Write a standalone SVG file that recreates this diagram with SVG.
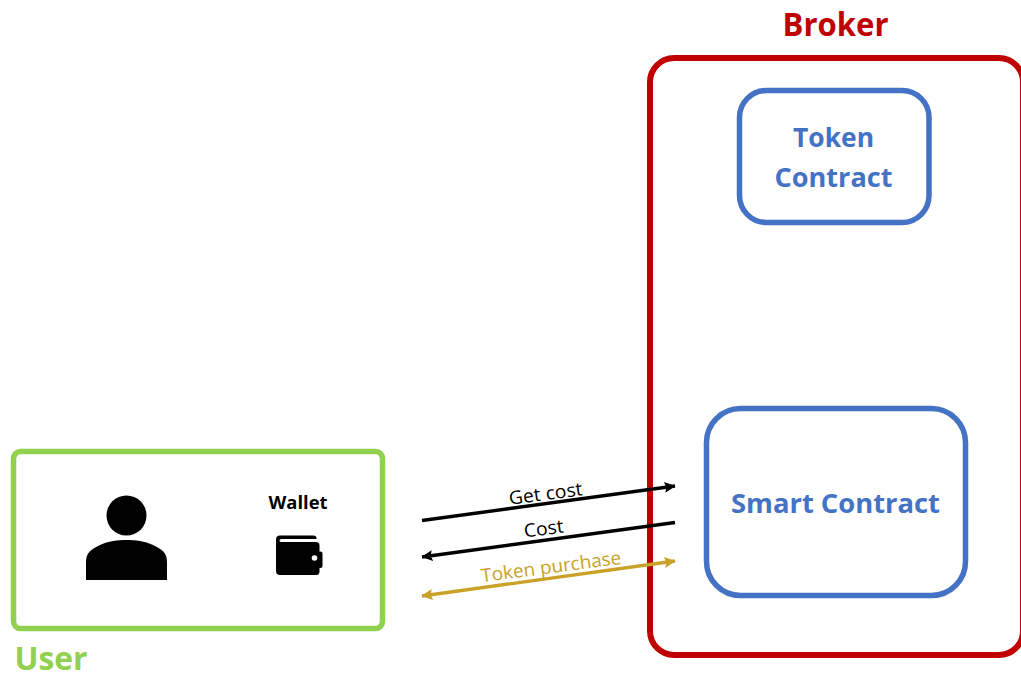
<svg xmlns="http://www.w3.org/2000/svg" width="1021" height="673" viewBox="0 0 1021 673">
<style>
text{font-family:"Open Sans","Noto Sans","Liberation Sans",sans-serif}
.t{font-weight:700;text-anchor:middle}
.box{fill:none;stroke-width:5.500}
.red{stroke-width:6}
.blue{fill:#4472c4}
.arr{stroke-width:3.400;fill:none}
.lab{font-size:18.500px;text-anchor:middle}
</style>
<defs>
<marker id="ab" viewBox="0 0 10 10" refX="9.500" refY="5" markerWidth="15" markerHeight="11" markerUnits="userSpaceOnUse" orient="auto-start-reverse"><path d="M0 0L10 5L0 10L1.500 5Z" fill="#000"/></marker>
<marker id="ag" viewBox="0 0 10 10" refX="9.500" refY="5" markerWidth="15" markerHeight="11" markerUnits="userSpaceOnUse" orient="auto-start-reverse"><path d="M0 0L10 5L0 10L1.500 5Z" fill="#c9a227"/></marker>
</defs>
<rect width="1021" height="673" fill="#fff"/>
<g id="broker">
<rect class="box red" x="650" y="58" width="373" height="597" rx="24" stroke="#c00000"/>
<text class="t" x="835.500" y="36" font-size="32" fill="#c00000" textLength="106" lengthAdjust="spacingAndGlyphs">Broker</text>
</g>
<g id="token-contract">
<rect class="box" x="739.500" y="90.500" width="189.500" height="132" rx="27" stroke="#4472c4"/>
<text class="t blue" x="833.500" y="147" font-size="27" textLength="81" lengthAdjust="spacingAndGlyphs">Token</text>
<text class="t blue" x="833.500" y="187" font-size="27" textLength="118" lengthAdjust="spacingAndGlyphs">Contract</text>
</g>
<g id="smart-contract">
<rect class="box" x="706.500" y="408.500" width="259" height="187" rx="34" stroke="#4472c4"/>
<text class="t blue" x="835.500" y="513" font-size="27" textLength="209" lengthAdjust="spacingAndGlyphs">Smart Contract</text>
</g>
<g id="user">
<rect class="box" x="13.500" y="451.500" width="369" height="177" rx="7" stroke="#92d050"/>
<text class="t" x="51" y="670" font-size="32" fill="#92d050" textLength="73" lengthAdjust="spacingAndGlyphs">User</text>
<circle cx="126.500" cy="515.500" r="20"/>
<path d="M86 580V562C86 552 92 549 100 545C108 541 118 540 126.500 540C135 540 145 541 153 545C161 549 167 552 167 562V580Z"/>
</g>
<g id="wallet">
<text class="t" x="298" y="509" font-size="17.500" fill="#000" textLength="59" lengthAdjust="spacingAndGlyphs">Wallet</text>
<path d="M280 535.500H313.500Q316.500 535.500 316.500 538V539H281.500Q279.500 539 279.500 540.500Q279.500 542 281.500 542H316Q319.500 542 319.500 545.500V551.500H320.500Q322.500 551.500 322.500 553.500V566Q322.500 568 320.500 568H319.500V571.500Q319.500 575 316 575H280Q276 575 276 571V539.500Q276 535.500 280 535.500Z"/>
<circle cx="314.500" cy="558" r="2.800" fill="#fff"/>
</g>
<g id="connectors">
<path class="arr" d="M422 520.500L675 486" stroke="#000" marker-end="url(#ab)"/>
<path class="arr" d="M675 522.500L422 557" stroke="#000" marker-end="url(#ab)"/>
<path class="arr" d="M422 596L675 561" stroke="#c9a227" marker-start="url(#ag)" marker-end="url(#ag)"/>
<text class="lab" transform="translate(546.500 500) rotate(-7.500)" fill="#000" textLength="74" lengthAdjust="spacingAndGlyphs">Get cost</text>
<text class="lab" transform="translate(544.500 535) rotate(-7.500)" fill="#000" textLength="40" lengthAdjust="spacingAndGlyphs">Cost</text>
<text class="lab" transform="translate(552 573) rotate(-7.500)" fill="#c9a227" textLength="141" lengthAdjust="spacingAndGlyphs">Token purchase</text>
</g>
</svg>
